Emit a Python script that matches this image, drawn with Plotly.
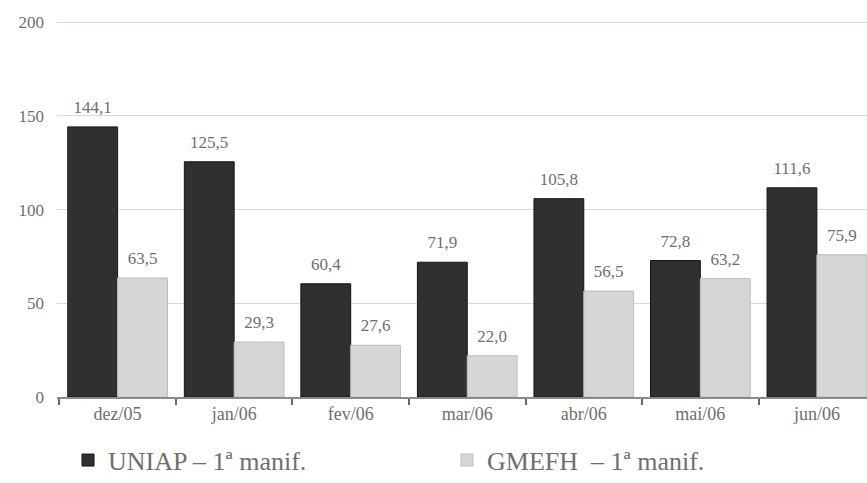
import plotly.graph_objects as go

# Monthly figures, Dec/2005 – Jun/2006
months = ["dez/05", "jan/06", "fev/06", "mar/06", "abr/06", "mai/06", "jun/06"]
uniap = [144.1, 125.5, 60.4, 71.9, 105.8, 72.8, 111.6]
gmefh = [63.5, 29.3, 27.6, 22.0, 56.5, 63.2, 75.9]
y_ticks = [0, 50, 100, 150, 200]

series_names = ["UNIAP – 1ª manif.", "GMEFH  – 1ª manif."]
series_colors = ["#303030", "#d6d6d6"]
series_edges = ["#141414", "#bdbdbd"]

FONT = "Liberation Serif"
GRAY_TXT = "#6e6e6e"
GAP = 0.145


def fmt(v):
    return f"{v:.1f}".replace(".", ",")


fig = go.Figure()
for name, vals, col, edge, grp in zip(series_names, [uniap, gmefh],
                                      series_colors, series_edges, ["a", "b"]):
    fig.add_trace(go.Bar(
        x=months, y=vals, name=name, offsetgroup=grp,
        marker=dict(color=col, line=dict(color=edge, width=1)),
        hoverinfo="skip",
    ))
for vals, grp in zip([uniap, gmefh], ["a", "b"]):
    # value labels above each bar
    fig.add_trace(go.Scatter(
        x=months, y=vals, offsetgroup=grp, mode="markers+text",
        marker=dict(size=14, color="rgba(0,0,0,0)"),
        text=[fmt(v) for v in vals], textposition="top center",
        textfont=dict(family=FONT, size=17, color=GRAY_TXT),
        showlegend=False, hoverinfo="skip", cliponaxis=False,
    ))

fig.update_layout(
    width=867, height=483,
    margin=dict(l=57, r=0, t=21, b=86, autoexpand=False),
    paper_bgcolor="white", plot_bgcolor="white",
    barmode="group", bargap=GAP, bargroupgap=0,
    scattermode="group", scattergap=GAP,
    font=dict(family=FONT, color=GRAY_TXT),
    showlegend=True,
    legend=dict(
        orientation="h", x=0.0136, xanchor="left", y=-0.168, yanchor="middle",
        font=dict(family=FONT, size=26, color=GRAY_TXT),
        entrywidth=334, entrywidthmode="pixels",
        bgcolor="rgba(0,0,0,0)",
    ),
)

fig.update_xaxes(
    type="category",
    range=[-0.52, 6.43],
    showline=True, linecolor="#8a8a8a", linewidth=1.5,
    ticks="outside", tickson="boundaries", ticklen=6, tickcolor="#666", tickwidth=1.5,
    tickfont=dict(family=FONT, size=18, color=GRAY_TXT),
    showgrid=False,
)
fig.update_yaxes(
    range=[0, 200.6],
    tickvals=y_ticks,
    tickfont=dict(family=FONT, size=17, color=GRAY_TXT),
    showgrid=True, gridcolor="#d3d9e8", gridwidth=1,
    zeroline=False, showline=False, ticks="",
    ticklabelstandoff=12,
)

fig.write_html("out.html")
